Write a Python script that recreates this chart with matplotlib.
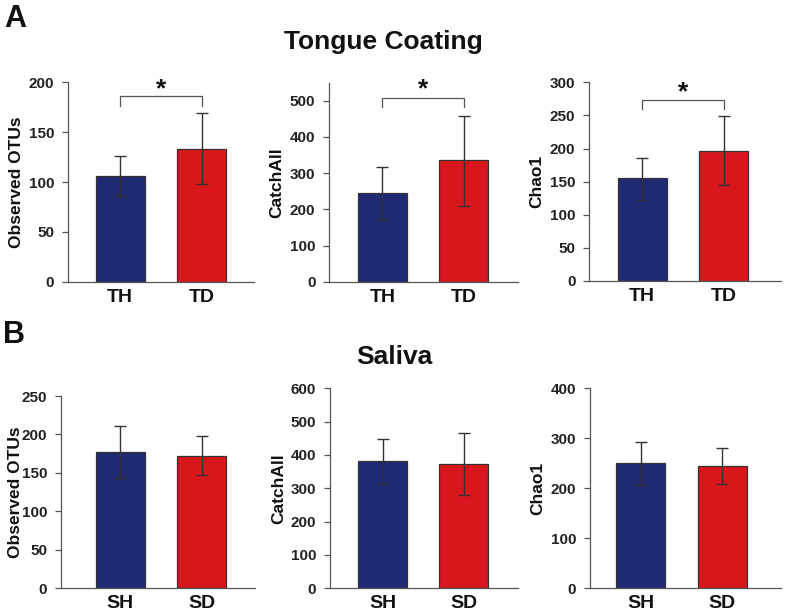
import matplotlib
matplotlib.use("Agg")
import matplotlib.pyplot as plt
import numpy as np

plt.rcParams['font.family'] = ['Liberation Sans', 'DejaVu Sans']
plt.rcParams['font.weight'] = 'bold'

# ---- data ----
groups_A = ["TH", "TD"]
groups_B = ["SH", "SD"]
metrics = ["Observed OTUs", "CatchAll", "Chao1"]

# Tongue coating (A)
A_mean = [[106, 133], [244, 335], [155, 197]]
A_low = [[86, 98], [170, 210], [123, 145]]
A_high = [[126, 169], [316, 458], [186, 249]]
A_ylim = [200, 550, 300]
A_yticks = [[0, 50, 100, 150, 200], [0, 100, 200, 300, 400, 500], [0, 50, 100, 150, 200, 250, 300]]
A_bracket = [186, 508, 274]
A_bracket_drop = [176, 482, 259]
A_star = [193, 533, 285]

# Saliva (B)
B_mean = [[177, 172], [381, 374], [250, 245]]
B_low = [[143, 147], [312, 280], [207, 208]]
B_high = [[211, 198], [449, 466], [293, 281]]
B_ylim = [250, 600, 400]
B_yticks = [[0, 50, 100, 150, 200, 250], [0, 100, 200, 300, 400, 500, 600], [0, 100, 200, 300, 400]]

colors = ["#1f2a72", "#d8161b"]

W, H = 787, 614
fig = plt.figure(figsize=(W / 100, H / 100), dpi=100)

def px_axes(left, top, right, bottom):
    return fig.add_axes([left / W, 1 - bottom / H, (right - left) / W, (bottom - top) / H])

# pixel boxes: left spine x, top, right end, bottom (zero line)
A_boxes = [(68, 82.3, 254, 281.7), (329.3, 82.7, 518, 281.7), (589.3, 82.3, 781, 281)]
B_boxes = [(61, 396, 255, 588.3), (330, 388.3, 518, 588.3), (590, 388.3, 781, 588.3)]
A_centers = [(120, 201.5), (382.3, 463.8), (642, 723.5)]
B_centers = [(120, 201.6), (382.6, 463.8), (640.5, 722.3)]
ylabel_x_A = [16.5, 276.5, 537]
ylabel_x_B = [16, 278.5, 537.5]

def draw(box, centers, means, lows, highs, ylim, yticks, labels, ylabel, ylx,
         bracket=None, drop=None, star=None):
    left, top, right, bottom = box
    c0, c1 = centers
    sp = c1 - c0
    ax = px_axes(left, top, right, bottom)
    x = np.arange(2)
    width = 49 / sp
    means = np.array(means)
    err = np.array([means - np.array(lows), np.array(highs) - means])
    ax.bar(x, means, width=width, color=colors, edgecolor="#333333", linewidth=0.9, zorder=2)
    ax.errorbar(x, means, yerr=err, fmt="none", ecolor="#333333", elinewidth=1.0,
                capsize=4.3, capthick=1.0, zorder=3)
    ax.set_xlim(-(c0 - left) / sp, 1 + (right - c1) / sp)
    ax.set_ylim(0, ylim)
    ax.set_yticks(yticks)
    ax.set_yticklabels([str(t) for t in yticks], fontsize=11, fontweight="bold", color="#222222")
    ax.set_xticks(x)
    ax.set_xticklabels(labels, fontsize=14, fontweight="bold", color="#111111")
    ax.tick_params(axis="x", length=0, pad=5)
    ax.tick_params(axis="y", length=4, width=0.9, color="#555555", pad=6, direction="out")
    for s in ["top", "right"]:
        ax.spines[s].set_visible(False)
    for s in ["left", "bottom"]:
        ax.spines[s].set_color("#555555")
        ax.spines[s].set_linewidth(0.9)
    ycen = (top + bottom) / 2
    fig.text(ylx / W, 1 - ycen / H, ylabel, rotation=90, ha="center", va="center",
             fontsize=12.5, fontweight="bold", color="#111111")
    if bracket is not None:
        ax.plot([0, 0, 1, 1], [drop, bracket, bracket, drop], color="#555555",
                linewidth=0.9, clip_on=False, zorder=4)
        ax.text(0.5, star, "*", ha="center", va="center", fontsize=19,
                fontweight="bold", color="#111111", clip_on=False)
    return ax

for i in range(3):
    draw(A_boxes[i], A_centers[i], A_mean[i], A_low[i], A_high[i], A_ylim[i], A_yticks[i],
         groups_A, metrics[i], ylabel_x_A[i], A_bracket[i], A_bracket_drop[i], A_star[i])
    draw(B_boxes[i], B_centers[i], B_mean[i], B_low[i], B_high[i], B_ylim[i], B_yticks[i],
         groups_B, metrics[i], ylabel_x_B[i])

fig.text(383 / W, 1 - 48.5 / H, "Tongue Coating", ha="center", va="baseline",
         fontsize=19, fontweight="bold", color="#111111")
fig.text(394 / W, 1 - 364.3 / H, "Saliva", ha="center", va="baseline",
         fontsize=19, fontweight="bold", color="#111111")
fig.text(4 / W, 1 - 27 / H, "A", ha="left", va="baseline", fontsize=22,
         fontweight="bold", color="#111111")
fig.text(3 / W, 1 - 343 / H, "B", ha="left", va="baseline", fontsize=22,
         fontweight="bold", color="#111111")

fig.savefig("out.png", dpi=100)
